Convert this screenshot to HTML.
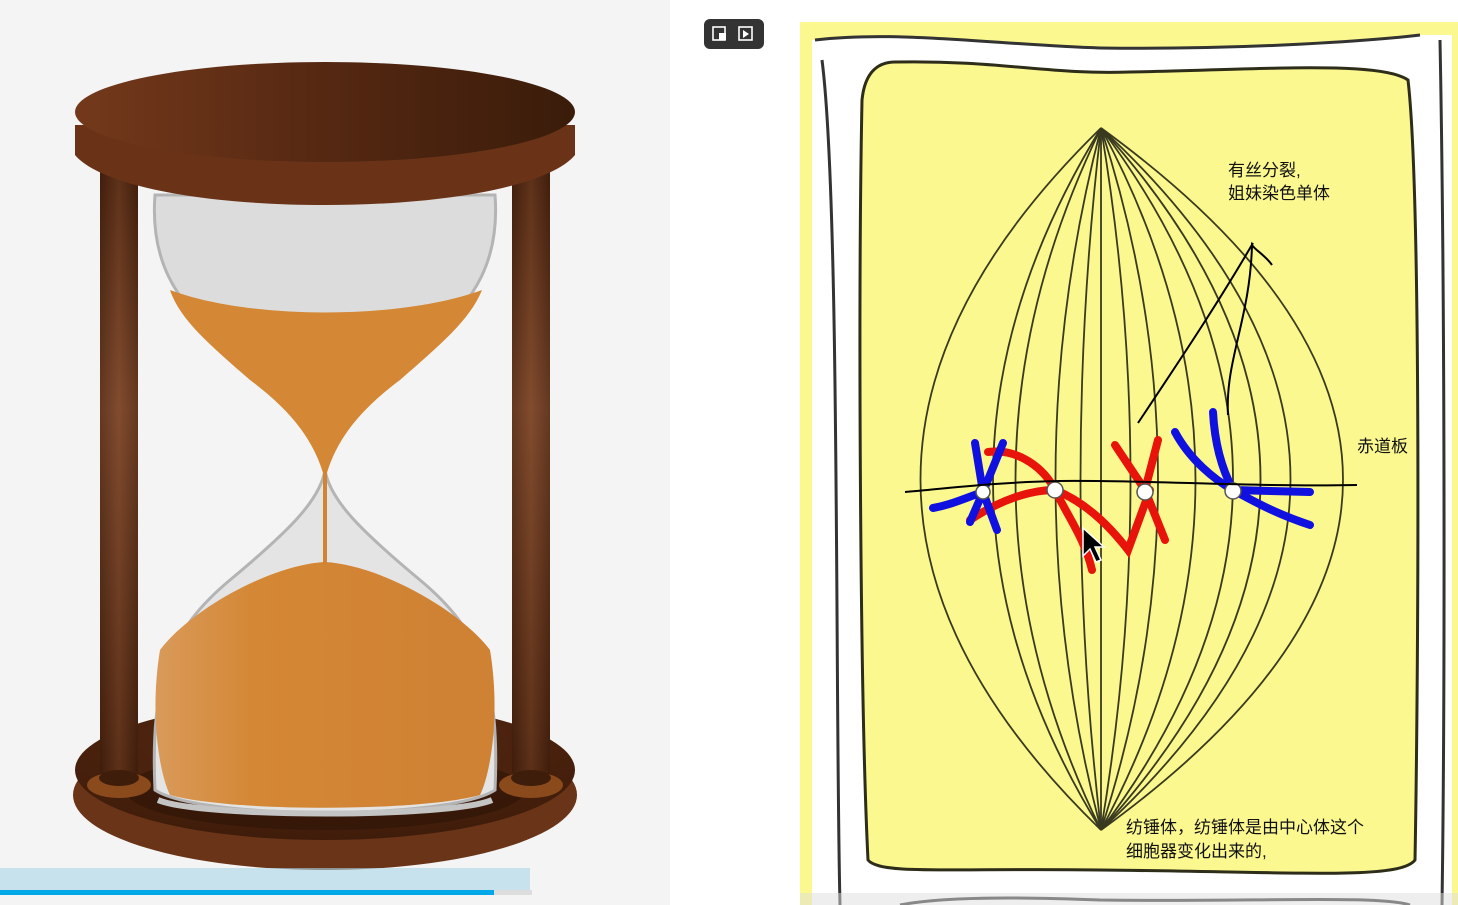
<!DOCTYPE html>
<html><head><meta charset="utf-8"><style>
html,body{margin:0;padding:0;width:1458px;height:905px;overflow:hidden;background:#fff;font-family:"Liberation Sans","Noto Sans CJK SC",sans-serif}
svg{display:block}
.t{font-family:"Liberation Sans","Noto Sans CJK SC",sans-serif;font-size:17px;fill:#111}
</style></head><body>
<svg width="1458" height="905" viewBox="0 0 1458 905">
<defs>
<linearGradient id="wood" x1="0" x2="1" y1="0" y2="0"><stop offset="0" stop-color="#74391b"/><stop offset="0.5" stop-color="#552812"/><stop offset="1" stop-color="#3a1c0a"/></linearGradient>
<linearGradient id="post" x1="0" x2="1"><stop offset="0" stop-color="#3d1c0b"/><stop offset="0.5" stop-color="#7a4326"/><stop offset="1" stop-color="#3d1c0b"/></linearGradient>
<linearGradient id="postv" x1="0" x2="0" y1="0" y2="1"><stop offset="0" stop-color="#3e1d0b"/><stop offset="0.4" stop-color="#8a5437"/><stop offset="1" stop-color="#3e1d0b"/></linearGradient>
<linearGradient id="sand" x1="0" x2="1"><stop offset="0" stop-color="#d99a5a"/><stop offset="0.3" stop-color="#d48734"/><stop offset="1" stop-color="#cf8134"/></linearGradient>
<radialGradient id="base" cx="0.5" cy="0.3" r="0.7"><stop offset="0" stop-color="#5a2a12"/><stop offset="1" stop-color="#3f1c0a"/></radialGradient>
</defs>
<rect x="0" y="0" width="670" height="905" fill="#f4f4f4"/>
<g>
  <ellipse cx="325" cy="795" rx="252" ry="75" fill="#6a3418"/>
  <ellipse cx="325" cy="770" rx="250" ry="70" fill="url(#base)"/>
  <ellipse cx="325" cy="790" rx="200" ry="40" fill="#2e1407" opacity="0.6"/>
  <rect x="100" y="160" width="38" height="620" fill="url(#postv)"/>
  <rect x="512" y="160" width="38" height="620" fill="url(#postv)"/>
  <rect x="100" y="160" width="38" height="620" fill="url(#post)" opacity="0.5"/>
  <rect x="512" y="160" width="38" height="620" fill="url(#post)" opacity="0.5"/>
  <ellipse cx="119" cy="785" rx="32" ry="13" fill="#8a4a1c"/>
  <ellipse cx="531" cy="785" rx="32" ry="13" fill="#8a4a1c"/>
  <ellipse cx="119" cy="778" rx="20" ry="8" fill="#3e1d0b"/>
  <ellipse cx="531" cy="778" rx="20" ry="8" fill="#3e1d0b"/>
  <path d="M155 195 C150 260 175 300 220 340 C290 400 320 440 325 470 C330 440 360 400 430 340 C475 300 500 260 495 195 Z" fill="#dcdcdc" stroke="#b4b4b4" stroke-width="3"/>
  <path d="M325 470 C320 500 290 530 230 580 C170 630 150 680 155 790 C200 820 450 820 495 790 C500 680 480 630 420 580 C360 530 330 500 325 470 Z" fill="#e4e4e4" stroke="#b4b4b4" stroke-width="3"/>
  <path d="M170 290 C250 320 400 320 482 290 C470 320 440 345 400 380 C360 410 335 440 325 480 C315 440 290 410 250 380 C210 345 180 320 170 290 Z" fill="#d48734"/>
  <path d="M325 562 C380 565 460 610 490 650 C500 710 492 770 480 795 C420 812 230 812 170 795 C158 770 150 710 160 650 C190 610 270 565 325 562 Z" fill="url(#sand)"/>
  <path d="M323 470 L327 470 L327 565 L323 565 Z" fill="#d08534"/>
  <path d="M158 800 C200 818 450 818 492 800" stroke="#c4c4c4" stroke-width="6" fill="none"/>
  <path d="M75 125 L75 155 C100 185 200 205 325 205 C450 205 550 185 575 155 L575 125 Z" fill="#6a3318"/>
  <ellipse cx="325" cy="112" rx="250" ry="50" fill="url(#wood)"/>
</g>
<rect x="0" y="868" width="530" height="24" fill="#a9d6e7" opacity="0.6"/>
<rect x="0" y="890" width="494" height="5" fill="#00a8e8"/>
<rect x="494" y="890" width="38" height="5" fill="#ddd"/>
<g>
  <rect x="704" y="19" width="60" height="30" rx="6" fill="#333"/>
  <rect x="713" y="27" width="12" height="13" fill="none" stroke="#fff" stroke-width="1.6"/>
  <rect x="719" y="33" width="7" height="7" fill="#fff"/>
  <rect x="739" y="27" width="13" height="13" fill="none" stroke="#fff" stroke-width="1.6"/>
  <path d="M743 30 L749 34 L743 38 Z" fill="#fff"/>
</g>
<g>
  <rect x="800" y="22" width="658" height="883" fill="#fbf88f"/>
  <path d="M812 40 C900 30 1000 45 1100 48 C1250 50 1380 40 1420 35 L1452 35 L1452 905 L812 905 Z" fill="#fff"/>
  <path d="M815 40 C900 30 1000 45 1100 48 C1250 50 1380 40 1420 35" stroke="#333" stroke-width="3" fill="none"/>
  <path d="M822 60 C840 200 835 700 840 905" stroke="#333" stroke-width="3" fill="none"/>
  <path d="M1440 40 C1445 300 1445 700 1442 905" stroke="#333" stroke-width="3" fill="none"/>
  <rect x="1452" y="22" width="6" height="883" fill="#fbf88f"/>
  <path d="M895 62 C1000 60 1050 75 1130 72 C1250 70 1380 60 1408 80 C1422 200 1418 700 1415 860 C1400 880 1300 872 1100 870 C950 868 880 875 868 860 C860 700 858 300 862 100 C865 70 880 62 895 62 Z" fill="#fbf88f" stroke="#2d2d1a" stroke-width="3"/>
  <path d="M900 905 C950 895 1050 898 1100 900 C1250 902 1380 895 1410 905" stroke="#333" stroke-width="3" fill="none"/>
  <rect x="800" y="893" width="658" height="12" fill="#ddd" opacity="0.5"/>
  <g fill="none" stroke="#3a3a20" stroke-width="1.8">
    <path d="M1101 128 Q740 480 1101 830"/>
    <path d="M1101 128 Q885 480 1101 830"/>
    <path d="M1101 128 Q930 480 1101 830"/>
    <path d="M1101 128 Q1010 480 1101 830"/>
    <path d="M1101 128 Q1060 480 1101 830"/>
    <path d="M1101 128 L1101 830"/>
    <path d="M1101 128 Q1160 480 1101 830"/>
    <path d="M1101 128 Q1215 480 1101 830"/>
    <path d="M1101 128 Q1290 480 1101 830"/>
    <path d="M1101 128 Q1365 480 1101 830"/>
    <path d="M1101 128 Q1420 480 1101 830"/>
    <path d="M1101 128 Q1480 480 1101 830"/>
    <path d="M1101 128 Q1585 480 1101 830"/>
  </g>
  <g fill="none" stroke="#e8140c" stroke-width="8" stroke-linecap="round">
    <path d="M988 452 C1020 448 1045 470 1055 490 C1070 520 1085 540 1092 570"/>
    <path d="M970 520 C1000 500 1030 490 1055 490 C1080 500 1105 520 1128 550 L1150 490"/>
    <path d="M1115 445 L1145 490 L1165 540"/>
    <path d="M1158 440 L1145 490"/>
  </g>
  <g fill="none" stroke="#1010e0" stroke-width="8" stroke-linecap="round">
    <path d="M975 443 L983 492 L997 530"/>
    <path d="M1003 443 L983 492 L970 522"/>
    <path d="M933 508 C950 505 960 500 983 492"/>
    <path d="M1175 432 C1190 460 1215 480 1233 490 C1260 505 1280 515 1310 525"/>
    <path d="M1213 412 C1215 450 1225 475 1233 490 L1310 492"/>
  </g>
  <g fill="#fff" stroke="#555" stroke-width="1.5">
    <circle cx="983" cy="492" r="7"/><circle cx="1055" cy="490" r="8"/><circle cx="1145" cy="492" r="8"/><circle cx="1233" cy="491" r="8"/>
  </g>
  <path d="M905 492 C950 488 1000 482 1060 481 C1150 480 1250 487 1357 485" stroke="#000" stroke-width="2" fill="none"/>
  <g fill="none" stroke="#000" stroke-width="2">
    <path d="M1138 423 C1180 360 1220 300 1253 243"/>
    <path d="M1228 415 C1225 360 1250 320 1252 245 C1255 250 1265 255 1272 265"/>
  </g>
  <path d="M1083 528 L1083 556 L1090 549 L1096 562 L1101 560 L1095 547 L1104 547 Z" fill="#000" stroke="#fff" stroke-width="1.5"/>
  <text class="t" x="1228" y="176">有丝分裂,</text>
  <text class="t" x="1228" y="199">姐妹染色单体</text>
  <text class="t" x="1357" y="452">赤道板</text>
  <text class="t" x="1126" y="833">纺锤体，纺锤体是由中心体这个</text>
  <text class="t" x="1126" y="857">细胞器变化出来的,</text>
</g>
</svg>
</body></html>
